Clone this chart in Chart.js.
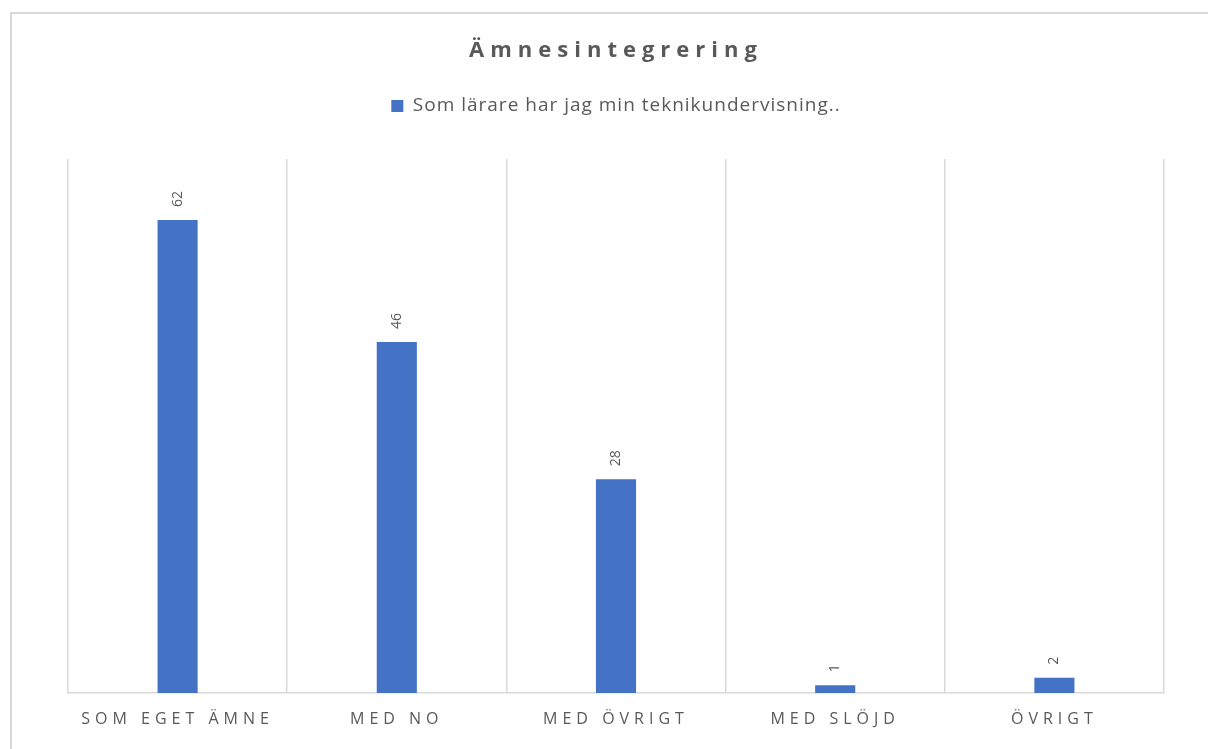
<!DOCTYPE html>
<html>
<head>
<meta charset="utf-8">
<script src="https://cdn.jsdelivr.net/npm/chart.js@4.4.0/dist/chart.umd.min.js"></script>
<style>
  body { margin: 0; background: #fff; overflow: hidden; }
  #frame { position: absolute; left: 10px; top: 12px; width: 1300px; height: 800px; border: 2px solid #d9d9d9; }
  #wrap { position: absolute; left: 0; top: 0; width: 1208px; height: 749px; }
</style>
</head>
<body>
<div id="frame"></div>
<div id="wrap"><canvas id="chart"></canvas></div>
<script>
const categories = ['SOM EGET ÄMNE', 'MED NO', 'MED ÖVRIGT', 'MED SLÖJD', 'ÖVRIGT'];
const values = [62, 46, 28, 1, 2];
const seriesName = 'Som lärare har jag min teknikundervisning..';
const chartTitle = 'Ämnesintegrering';

const textColor = '#595959';
const barColor = '#4472C4';

function spaced(ctx, obj, name, spacing) {
  if (!obj || obj['_sp_' + name]) return;
  const orig = obj[name];
  obj[name] = function () {
    ctx.save();
    ctx.letterSpacing = spacing;
    const r = orig.apply(this, arguments);
    ctx.restore();
    return r;
  };
  obj['_sp_' + name] = true;
}

// letter spacing for title, legend and x labels, extra room under the legend,
// and rotated value labels above the bars
const tweaks = {
  id: 'tweaks',
  beforeLayout(chart) {
    const ctx = chart.ctx;
    const lg = chart.legend;
    if (lg && !lg._wrapped) {
      spaced(ctx, lg, 'fit', '1px');
      const fit = lg.fit;
      lg.fit = function () { fit.call(this); this.height += 33.5; };
      lg._wrapped = true;
    }
    spaced(ctx, lg, 'draw', '1px');
    spaced(ctx, chart.titleBlock, 'draw', '6px');
    spaced(ctx, chart.scales.x, 'drawLabels', '5px');
  },
  afterDatasetsDraw(chart) {
    const ctx = chart.ctx;
    const meta = chart.getDatasetMeta(0);
    ctx.save();
    ctx.fillStyle = textColor;
    ctx.font = '14px "Open Sans"';
    ctx.textAlign = 'left';
    ctx.textBaseline = 'middle';
    meta.data.forEach((bar, i) => {
      ctx.save();
      ctx.translate(bar.x, bar.y - 13);
      ctx.rotate(-Math.PI / 2);
      ctx.fillText(String(values[i]), 0, 0);
      ctx.restore();
    });
    ctx.restore();
  }
};

new Chart(document.getElementById('chart'), {
  type: 'bar',
  data: {
    labels: categories,
    datasets: [{
      label: seriesName,
      data: values,
      backgroundColor: barColor,
      borderWidth: 0,
      barPercentage: 0.183,
      categoryPercentage: 1
    }]
  },
  options: {
    responsive: true,
    maintainAspectRatio: false,
    animation: false,
    layout: { padding: { top: 38, left: 68, right: 44, bottom: 2.8 } },
    plugins: {
      title: {
        display: true,
        text: chartTitle,
        color: textColor,
        font: { family: '"Open Sans"', size: 22, weight: 'bold' },
        padding: { top: 0, bottom: 22 }
      },
      legend: {
        display: true,
        position: 'top',
        labels: {
          color: textColor,
          font: { family: '"Open Sans"', size: 19 },
          boxWidth: 12,
          boxHeight: 12,
          padding: 10
        }
      },
      tooltip: { enabled: false }
    },
    scales: {
      x: {
        grid: { color: '#d9d9d9', lineWidth: 1.5, drawTicks: false, offset: true },
        border: { color: '#d9d9d9', width: 1.5 },
        ticks: {
          color: textColor,
          font: { family: '"Open Sans"', size: 16 },
          padding: 17,
          autoSkip: false,
          maxRotation: 0
        }
      },
      y: {
        display: false,
        min: 0,
        max: 70
      }
    }
  },
  plugins: [tweaks]
});
</script>
</body>
</html>
